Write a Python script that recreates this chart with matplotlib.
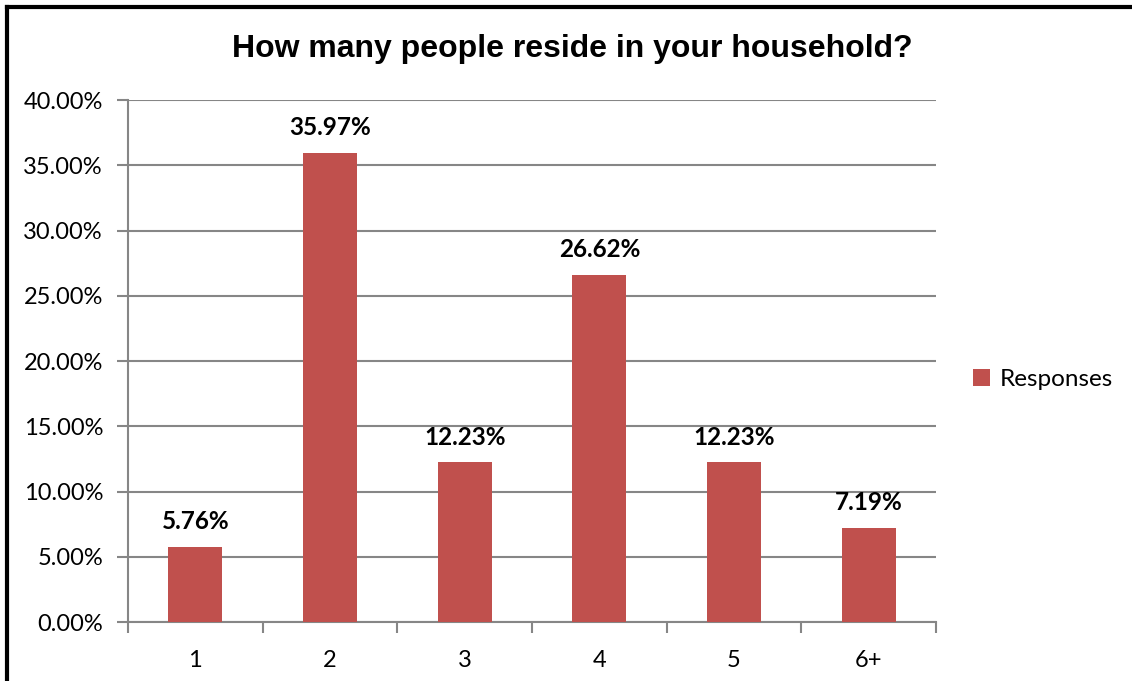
import matplotlib.pyplot as plt
from matplotlib.lines import Line2D
import numpy as np

categories = ['1', '2', '3', '4', '5', '6+']
responses = [5.76, 35.97, 12.23, 26.62, 12.23, 7.19]
y_ticks = [0, 5, 10, 15, 20, 25, 30, 35, 40]

bar_color = '#C0504D'
grid_color = '#868686'
label_font = 'Lato'

fig = plt.figure(figsize=(11.32, 6.81), dpi=100)
ax = fig.add_axes([0.1131, 0.0866, 0.7138, 0.7665])

x = np.arange(len(categories))
bars = ax.bar(x, responses, width=0.4, color=bar_color, zorder=3, label='Responses')

ax.set_xlim(-0.5, len(categories) - 0.5)
ax.set_ylim(0, 40)
ax.set_yticks(y_ticks)
ax.set_yticklabels([f'{v:.2f}%' for v in y_ticks], fontsize=17, family=label_font)
ax.yaxis.grid(True, color=grid_color, linewidth=1.5, zorder=0)

# category ticks sit on the boundaries, labels in the middle
ax.set_xticks(np.arange(len(categories) + 1) - 0.5)
ax.set_xticklabels([])
ax.set_xticks(x, minor=True)
ax.set_xticklabels(categories, minor=True, fontsize=17, family=label_font)
ax.tick_params(axis='x', which='minor', length=0, pad=20)
ax.tick_params(axis='x', which='major', length=8, width=1.5, color=grid_color)
ax.tick_params(axis='y', length=8, width=1.5, color=grid_color, pad=10)

for side in ['top', 'right']:
    ax.spines[side].set_visible(False)
for side in ['left', 'bottom']:
    ax.spines[side].set_color(grid_color)
    ax.spines[side].set_linewidth(1.5)

for b, v in zip(bars, responses):
    ax.annotate(f'{v:.2f}%', (b.get_x() + b.get_width() / 2, v),
                xytext=(0, 10), textcoords='offset points',
                ha='center', va='bottom', fontsize=17.5, fontweight='bold',
                family=label_font)

fig.text(0.506, 0.928, 'How many people reside in your household?',
         ha='center', va='center', fontsize=23, fontweight='bold',
         family='Liberation Sans')

fig.legend(handles=[bars], labels=['Responses'], loc='center left',
           bbox_to_anchor=(0.840, 0.443), frameon=False,
           prop={'family': label_font, 'size': 17.5},
           handlelength=0.7, handleheight=0.7, handletextpad=0.4)

# outer frame (top and left edges visible)
fig.add_artist(Line2D([0.006, 1.0], [0.990, 0.990], color='black', linewidth=3,
                      transform=fig.transFigure))
fig.add_artist(Line2D([0.006, 0.006], [0.0, 0.990], color='black', linewidth=3,
                      transform=fig.transFigure))

fig.savefig('out.png', dpi=100)
